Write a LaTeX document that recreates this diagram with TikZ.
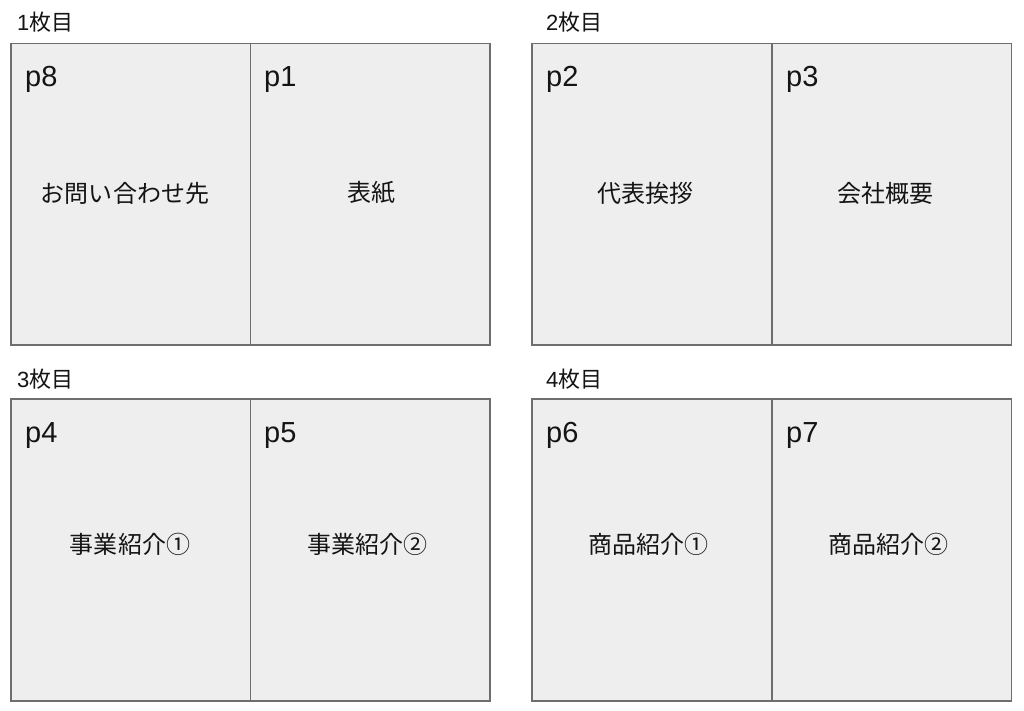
\documentclass[tikz,border=0pt]{standalone}
\usepackage{fontspec}
\setmainfont{Liberation Sans}
\newfontfamily\jp{Noto Sans CJK JP}
\definecolor{pagefill}{HTML}{EEEEEE}
\definecolor{pageline}{HTML}{6E6E6E}
\definecolor{txt}{HTML}{141414}
\tikzset{
  page/.style={draw=pageline, fill=pagefill, line width=1.5bp, inner sep=0pt,
    minimum width=239.5bp, minimum height=301bp, anchor=north west},
  pnum/.style={anchor=base west, inner sep=0pt, text=txt, font=\fontsize{29bp}{32bp}\selectfont},
  ptitle/.style={anchor=center, inner sep=0pt, text=txt, font=\jp\fontsize{24bp}{28bp}\selectfont},
  sheet/.style={anchor=base west, inner sep=0pt, text=txt, font=\fontsize{22bp}{26bp}\selectfont}
}
\begin{document}
\begin{tikzpicture}[x=1bp,y=-1bp]
\useasboundingbox[fill=white] (0,0) rectangle (1024,711);
% sheet labels
\node[sheet] (s1) at (17,31) {1{\jp 枚目}};
\node[sheet] (s2) at (546,31) {2{\jp 枚目}};
\node[sheet] (s3) at (17,387) {3{\jp 枚目}};
\node[sheet] (s4) at (546,387) {4{\jp 枚目}};
% pages
\node[page] (pg8) at (10,43) {};
\node[page] (pg1) at (249.5,43) {};
\node[page] (pg2) at (531,43) {};
\node[page] (pg3) at (771,43) {};
\node[page, minimum height=302bp] (pg4) at (10,398) {};
\node[page, minimum height=302bp] (pg5) at (249.5,398) {};
\node[page, minimum height=302bp] (pg6) at (531,398) {};
\node[page, minimum height=302bp] (pg7) at (771,398) {};
% page numbers
\node[pnum] (n8) at (25,87) {p8};
\node[pnum] (n1) at (264,87) {p1};
\node[pnum] (n2) at (546,87) {p2};
\node[pnum] (n3) at (786,87) {p3};
\node[pnum] (n4) at (25,442) {p4};
\node[pnum] (n5) at (264,442) {p5};
\node[pnum] (n6) at (546,442) {p6};
\node[pnum] (n7) at (786,442) {p7};
% titles
\node[ptitle] (t8) at (125,193) {お問い合わせ先};
\node[ptitle] (t1) at (371,193) {表紙};
\node[ptitle] (t2) at (645,193) {代表挨拶};
\node[ptitle] (t3) at (885,193) {会社概要};
\node[ptitle] (t4) at (130,544) {事業紹介①};
\node[ptitle] (t5) at (367,544) {事業紹介②};
\node[ptitle] (t6) at (648,544) {商品紹介①};
\node[ptitle] (t7) at (888,544) {商品紹介②};
\end{tikzpicture}
\end{document}
